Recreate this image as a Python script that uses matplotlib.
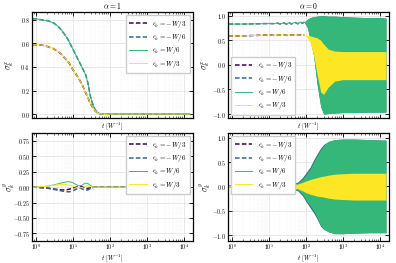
import matplotlib
matplotlib.use("Agg")
import matplotlib.pyplot as plt
import numpy as np

plt.rcParams.update({
    "font.family": "serif",
    "font.serif": ["cmr10", "DejaVu Serif"],
    "mathtext.fontset": "cm",
    "axes.formatter.use_mathtext": True,
    "axes.unicode_minus": True,
    "font.size": 5,
})

C_M3, C_M6, C_P6, C_P3 = "#440154", "#31688e", "#35b779", "#fde725"
labels = [r"$\epsilon_k=-W/3$", r"$\epsilon_k=-W/6$", r"$\epsilon_k=W/6$", r"$\epsilon_k=W/3$"]
titles = [r"$\alpha=1$", r"$\alpha=0$"]

# ---- top-left (alpha=1, sigma^x) ----
t_tl = [0.8, 1, 1.5, 2, 3, 4, 5, 6, 7, 8, 10, 12, 15, 18, 20, 22, 25, 28, 30, 35, 40, 45, 50, 60, 80, 100, 1000, 14500]
tl_p6 = [0.81, 0.81, 0.80, 0.795, 0.775, 0.745, 0.71, 0.675, 0.645, 0.61, 0.55, 0.50, 0.44, 0.39, 0.36, 0.335, 0.27, 0.19, 0.14, 0.075, 0.035, 0.015, 0.005, 0.0, -0.003, 0.0, 0.0, 0.0]
tl_p3 = [0.59, 0.59, 0.585, 0.575, 0.555, 0.53, 0.505, 0.475, 0.455, 0.43, 0.375, 0.34, 0.29, 0.245, 0.21, 0.18, 0.145, 0.105, 0.085, 0.05, 0.025, 0.012, 0.004, 0.0, -0.003, 0.0, 0.0, 0.0]
tl_m6 = list(tl_p6)
tl_m3 = list(tl_p3)

# ---- bottom-left (alpha=1, sigma^y) ----
t_bl = [0.8, 1, 2, 3, 4, 5, 6, 7, 8, 9, 10, 12, 14, 16, 18, 20, 22, 25, 28, 32, 36, 40, 50, 60, 100, 1000, 14500]
bl_p6 = [0, 0.002, 0.015, 0.035, 0.055, 0.07, 0.08, 0.087, 0.088, 0.08, 0.07, 0.045, 0.025, 0.02, 0.035, 0.055, 0.065, 0.06, 0.04, 0.015, 0.003, 0, 0.002, 0, 0, 0, 0]
bl_m6 = [0, -0.002, -0.015, -0.035, -0.05, -0.062, -0.07, -0.075, -0.075, -0.068, -0.058, -0.035, -0.02, -0.018, -0.03, -0.045, -0.05, -0.045, -0.03, -0.012, -0.003, 0, -0.002, 0, 0, 0, 0]
bl_p3 = [0, 0.002, 0.015, 0.03, 0.04, 0.045, 0.045, 0.04, 0.032, 0.022, 0.013, 0.0, -0.01, -0.012, -0.005, 0.008, 0.018, 0.022, 0.015, 0.005, 0, 0, 0, 0, 0, 0, 0]
bl_m3 = [0, -0.002, -0.015, -0.03, -0.04, -0.045, -0.045, -0.04, -0.032, -0.022, -0.013, 0.0, 0.01, 0.012, 0.005, -0.008, -0.018, -0.022, -0.015, -0.005, 0, 0, 0, 0, 0, 0, 0]

# ---- top-right (alpha=0, sigma^x) ----
t_tr = [0.8, 1, 2, 3, 5, 7, 10, 13, 17, 20, 25, 30, 35, 40, 50, 60, 70, 80, 90]
tr_p6 = [0.83, 0.83, 0.83, 0.832, 0.835, 0.838, 0.84, 0.838, 0.85, 0.83, 0.855, 0.825, 0.86, 0.83, 0.865, 0.835, 0.87, 0.845, 0.87]
tr_p3 = [0.585, 0.585, 0.59, 0.595, 0.6, 0.605, 0.61, 0.6, 0.615, 0.605, 0.615, 0.6, 0.615, 0.605, 0.61, 0.6, 0.61, 0.605, 0.605]
tr_m6 = list(tr_p6)
tr_m3 = list(tr_p3)
t_trb = [90, 110, 130, 160, 200, 250, 300, 400, 600, 1000, 2000, 5000, 10000, 14500]
tr_g_hi = [0.87, 0.93, 0.96, 0.98, 0.99, 1.0, 1.0, 0.99, 0.99, 0.98, 0.97, 0.96, 0.96, 0.95]
tr_g_lo = [0.87, 0.75, 0.5, 0.2, -0.4, -0.85, -1.0, -0.99, -0.98, -0.97, -0.97, -0.96, -0.96, -0.96]
tr_y_hi = [0.605, 0.6, 0.59, 0.57, 0.55, 0.5, 0.42, 0.32, 0.28, 0.27, 0.27, 0.27, 0.27, 0.27]
tr_y_lo = [0.605, 0.55, 0.45, 0.2, -0.2, -0.55, -0.6, -0.45, -0.33, -0.3, -0.3, -0.3, -0.3, -0.3]

# ---- bottom-right (alpha=0, sigma^y) ----
t_br = [0.8, 1, 2, 3, 5, 7, 10, 13, 17, 20, 25, 30, 35, 40]
br_p6 = [0, 0, 0.005, 0.0, 0.01, -0.01, 0.015, -0.015, 0.02, -0.02, 0.025, -0.025, 0.03, 0.0]
br_m6 = [0, 0, -0.005, 0.0, -0.01, 0.02, -0.01, 0.03, -0.02, 0.035, -0.02, 0.04, -0.03, 0.0]
br_p3 = [0, 0, -0.005, -0.01, -0.015, -0.01, -0.005, 0.0, 0.005, -0.005, 0.01, -0.01, 0.01, 0.0]
br_m3 = [0, 0, 0.005, 0.01, 0.015, 0.02, 0.02, 0.015, 0.02, 0.0, 0.02, -0.01, 0.02, 0.0]
t_brb = [40, 60, 80, 100, 130, 160, 200, 250, 300, 400, 600, 1000, 2000, 5000, 10000, 14500]
br_g_hi = [0.04, 0.07, 0.15, 0.24, 0.36, 0.5, 0.63, 0.76, 0.84, 0.92, 0.96, 0.97, 0.97, 0.96, 0.95, 0.95]
br_g_lo = [-0.04, -0.07, -0.16, -0.28, -0.4, -0.5, -0.64, -0.8, -0.87, -0.93, -0.97, -0.97, -0.96, -0.95, -0.95, -0.95]
br_b_hi = [0.05, 0.09, 0.18, 0.28, 0.4, 0.54, 0.67, 0.79, 0.86, 0.92, 0.96, 0.97, 0.97, 0.96, 0.95, 0.95]
br_b_lo = [-0.05, -0.09, -0.19, -0.31, -0.44, -0.54, -0.67, -0.82, -0.88, -0.93, -0.97, -0.97, -0.96, -0.95, -0.95, -0.95]
br_y_hi = [0.03, 0.05, 0.08, 0.11, 0.14, 0.16, 0.18, 0.2, 0.21, 0.23, 0.25, 0.26, 0.27, 0.27, 0.27, 0.27]
br_y_lo = [-0.03, -0.05, -0.09, -0.13, -0.16, -0.18, -0.2, -0.21, -0.22, -0.24, -0.26, -0.27, -0.28, -0.28, -0.28, -0.28]

fig = plt.figure(figsize=(3.96, 2.63), dpi=100)
W, H = 396, 263
def axbox(x0, x1, y0, y1):
    return [x0 / W, 1 - y1 / H, (x1 - x0) / W, (y1 - y0) / H]

ax_tl = fig.add_axes(axbox(32, 193, 12, 118))
ax_tr = fig.add_axes(axbox(228, 389, 12, 118))
ax_bl = fig.add_axes(axbox(32, 193, 133, 241))
ax_br = fig.add_axes(axbox(228, 389, 133, 241))

def lines(ax, t, m3, m6, p6, p3):
    h = []
    h += ax.plot(t, m3, color=C_M3, ls=(0, (3, 1.5)), lw=1.1, label=labels[0])
    h += ax.plot(t, m6, color=C_M6, ls=(0, (3, 1.5)), lw=1.1, label=labels[1])
    h += ax.plot(t, p6, color=C_P6, lw=0.7, label=labels[2])
    h += ax.plot(t, p3, color=C_P3, lw=0.7, label=labels[3])
    return h

h_tl = lines(ax_tl, t_tl, tl_m3, tl_m6, tl_p6, tl_p3)
h_bl = lines(ax_bl, t_bl, bl_m3, bl_m6, bl_p6, bl_p3)
h_tr = lines(ax_tr, t_tr, tr_m3, tr_m6, tr_p6, tr_p3)
h_br = lines(ax_br, t_br, br_m3, br_m6, br_p6, br_p3)

# oscillating bands
ax_tr.fill_between(t_trb, tr_g_lo, tr_g_hi, color=C_M6, lw=0)
ax_tr.fill_between(t_trb, tr_g_lo, tr_g_hi, color=C_P6, lw=0)
ax_tr.fill_between(t_trb, tr_y_lo, tr_y_hi, color=C_P3, lw=0)
ax_br.fill_between(t_brb, br_b_lo, br_b_hi, color=C_M6, lw=0)
ax_br.fill_between(t_brb, br_g_lo, br_g_hi, color=C_P6, lw=0)
ax_br.fill_between(t_brb, br_y_lo, br_y_hi, color=C_P3, lw=0)

for ax in (ax_tl, ax_tr, ax_bl, ax_br):
    ax.set_xscale("log")
    ax.set_xlim(0.78, 1.75e4)
    ax.grid(True, which="major", color="0.85", lw=0.4, ls="-")
    ax.grid(True, which="minor", axis="x", color="0.88", lw=0.35, ls=":")
    ax.set_axisbelow(True)
    ax.tick_params(which="both", direction="in", top=True, right=True, labelsize=4.3, pad=1.5)
    ax.tick_params(axis="x", which="both", pad=1.0)
    ax.tick_params(which="major", length=3, width=0.6)
    ax.tick_params(which="minor", length=1.6, width=0.4)
    for s in ax.spines.values():
        s.set_linewidth(0.9)
    ax.set_xlabel(r"$t\ [W^{-1}]$", fontsize=4.8)

for ax in (ax_tl, ax_tr):
    ax.tick_params(labelbottom=False)
    ax.xaxis.set_label_coords(0.5, -0.025)
for ax in (ax_bl, ax_br):
    ax.xaxis.set_label_coords(0.5, -0.105)

ax_tl.set_ylim(-0.034, 0.868)
ax_tl.set_yticks([0.0, 0.2, 0.4, 0.6, 0.8])
ax_tr.set_ylim(-1.08, 1.075)
ax_tr.set_yticks([-1.0, -0.5, 0.0, 0.5, 1.0])
ax_bl.set_ylim(-0.875, 0.88)
ax_bl.set_yticks([-0.75, -0.5, -0.25, 0.0, 0.25, 0.5, 0.75])
ax_br.set_ylim(-1.12, 1.095)
ax_br.set_yticks([-1.0, -0.5, 0.0, 0.5, 1.0])

ax_tl.set_title(titles[0], fontsize=5.5, pad=2)
ax_tr.set_title(titles[1], fontsize=5.5, pad=2)
for ax in (ax_tl, ax_tr):
    ax.set_ylabel(r"$\sigma^x_k$", fontsize=6)
for ax in (ax_bl, ax_br):
    ax.set_ylabel(r"$\sigma^y_k$", fontsize=6)
for ax in (ax_tl, ax_tr, ax_bl, ax_br):
    ax.yaxis.set_label_coords(-0.095, 0.5)

leg_kw = dict(fontsize=5, fancybox=False, edgecolor="0.8", framealpha=1,
              handlelength=2.5, borderpad=0.45, labelspacing=0.35, handletextpad=0.8)
ax_tl.legend(handles=h_tl, loc="upper right", **leg_kw)
ax_tr.legend(handles=h_tr, loc="lower left", **leg_kw)
ax_bl.legend(handles=h_bl, loc="upper right", **leg_kw)
ax_br.legend(handles=h_br, loc="upper left", **leg_kw)

fig.savefig("out.png", dpi=100)
